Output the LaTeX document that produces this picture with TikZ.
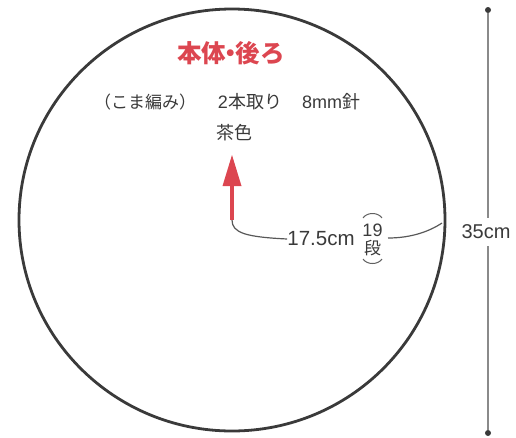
\documentclass[tikz,border=0pt]{standalone}
\usepackage{fontspec}
\setmainfont{Liberation Sans}
\newfontfamily\cjk{Noto Sans CJK JP}
\definecolor{ink}{HTML}{3A3A3A}
\definecolor{dimgray}{HTML}{8A8A8A}
\definecolor{redtitle}{HTML}{DC4650}
\begin{document}
\begin{tikzpicture}[x=1pt,y=-1pt,
  txt/.style={inner sep=0pt,text=ink},
  leader/.style={draw=ink!85,line width=1.2pt},
  dimline/.style={draw=dimgray,line width=1.2pt},
  dimdot/.style={circle,fill=ink,inner sep=0pt,minimum size=6pt}]
\useasboundingbox (0,0) rectangle (516,437);
% body circle
\draw[ink,line width=2.8pt] (232,220) ellipse [x radius=213,y radius=211];
% titles
\node[txt,text=redtitle,font=\cjk\bfseries\fontsize{24.5}{26}\selectfont] (title) at (231,53) {本体\kern-0.3em・\kern-0.3em後ろ};
\node[txt,font=\cjk\fontsize{17}{18}\selectfont] (st) at (145,102) {（こま編み）};
\node[txt,font=\fontsize{18}{19}\selectfont] (ply) at (250,102) {2{\cjk 本取り}};
\node[txt,font=\fontsize{18}{19}\selectfont] (hook) at (331,102) {8mm{\cjk 針}};
\node[txt,font=\cjk\fontsize{18}{19}\selectfont] (col) at (234,133) {茶色};
% red arrow
\coordinate (c0) at (232,220);
\coordinate (hb) at (232,186);
\coordinate (tip) at (232,155);
\draw[redtitle,line width=4.5pt] (c0) -- (hb);
\fill[redtitle] (222.5,186) -- (tip) -- (241.5,186) -- cycle;
% radius label
\node[txt,font=\fontsize{20.5}{21}\selectfont] (rad) at (321,239) {17.5cm};
\node[txt,font=\fontsize{18}{18}\selectfont] (n19) at (372.5,230) {19};
\node[txt,font=\cjk\fontsize{17}{17}\selectfont] (dan) at (372.5,248) {段};
\coordinate (rim) at (442,223);
\draw[leader] (c0) .. controls (232,233) and (246,237) .. (rad.west);
\draw[leader] (388,238) .. controls (412,238) and (430,231) .. (rim);
\draw[ink!80,line width=1pt] (363,218) .. controls (367,212) and (378,212) .. (382,218);
\draw[ink!80,line width=1pt] (363,259) .. controls (367,265) and (378,265) .. (382,259);
% dimension line
\node[dimdot] (dt) at (488,10) {};
\node[dimdot] (db) at (488,433) {};
\node[txt,font=\fontsize{20}{20}\selectfont,inner ysep=7pt] (dim) at (486,232) {35cm};
\draw[dimline] (dt) -- (dt |- dim.north);
\draw[dimline] (db |- dim.south) -- (db);
\end{tikzpicture}
\end{document}
